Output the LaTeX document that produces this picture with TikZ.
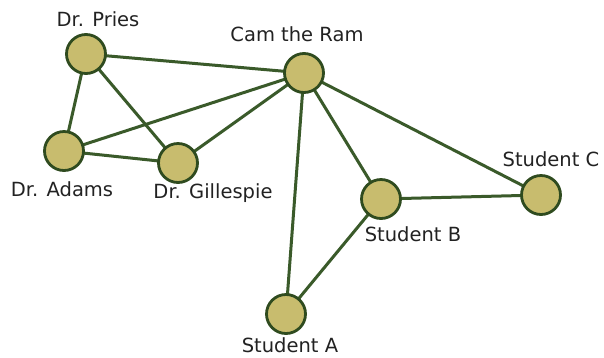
\documentclass[tikz,border=0pt]{standalone}
\usepackage{fontspec}
\setmainfont{DejaVu Sans}
\definecolor{nodefill}{HTML}{C8BC6E}
\definecolor{nodeline}{HTML}{2F4B1F}
\definecolor{edgecol}{HTML}{3A5A2A}
\definecolor{txt}{HTML}{222222}
\begin{document}
\begin{tikzpicture}[x=1pt,y=-1pt,
  person/.style={circle,draw=nodeline,fill=nodefill,line width=2.8pt,minimum size=39pt,inner sep=0pt},
  lbl/.style={anchor=base,text=txt,font=\fontsize{19.5}{22}\selectfont,inner sep=0pt},
  edge/.style={draw=edgecol,line width=3pt}]
\useasboundingbox (0,0) rectangle (604,357);
\fill[white] (0,0) rectangle (604,357);
\coordinate (pp) at (86,54);
\coordinate (cp) at (304,73);
\coordinate (ap) at (64,151);
\coordinate (gp) at (178,163);
\coordinate (bp) at (381,199);
\coordinate (scp) at (541,195);
\coordinate (sap) at (286,314);
% edges
\draw[edge] (pp) -- (cp);
\draw[edge] (pp) -- (ap);
\draw[edge] (pp) -- (gp);
\draw[edge] (ap) -- (cp);
\draw[edge] (ap) -- (gp);
\draw[edge] (gp) -- (cp);
\draw[edge] (cp) -- (sap);
\draw[edge] (cp) -- (bp);
\draw[edge] (cp) -- (scp);
\draw[edge] (bp) -- (scp);
\draw[edge] (sap) -- (bp);
% nodes
\node[person] (pries) at (pp) {};
\node[person] (cam) at (cp) {};
\node[person] (adams) at (ap) {};
\node[person] (gill) at (gp) {};
\node[person] (sb) at (bp) {};
\node[person] (sc) at (scp) {};
\node[person] (sa) at (sap) {};
% labels
\node[lbl] (priesl) at (98,26) {Dr. Pries};
\node[lbl] (caml) at (297,41) {Cam the Ram};
\node[lbl] (adamsl) at (62,196) {Dr. Adams};
\node[lbl] (gilll) at (213,198) {Dr. Gillespie};
\node[lbl] (scl) at (551,166) {Student C};
\node[lbl] (sbl) at (413,241) {Student B};
\node[lbl] (sal) at (290,352) {Student A};
\end{tikzpicture}
\end{document}
